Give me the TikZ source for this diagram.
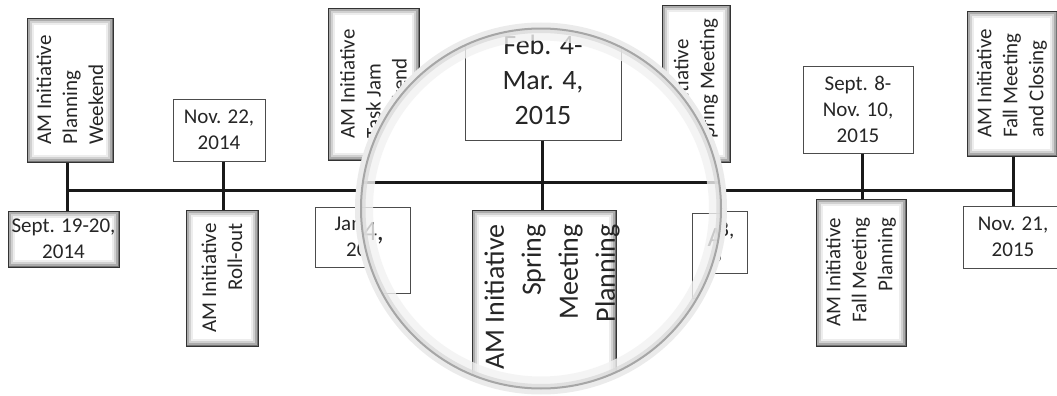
\documentclass[tikz,border=0pt]{standalone}
\usepackage{fontspec}
\setmainfont{Carlito}
\begin{document}
\begin{tikzpicture}[x=0.5pt,y=-0.5pt,
  tick/.style={line width=1.5pt, black!90},
  datebox/.style={draw=black!70, fill=white, line width=0.5pt, inner sep=0pt, align=center,
    text=black!85, font=\fontsize{10.5}{13}\selectfont},
  shbox/.style={datebox, draw=black!80, path picture={
    \draw[black!7, line width=7pt] (path picture bounding box.south west) rectangle (path picture bounding box.north east);
    \draw[black!18, line width=5pt] (path picture bounding box.south west) rectangle (path picture bounding box.north east);
    \draw[black!33, line width=3pt] (path picture bounding box.south west) rectangle (path picture bounding box.north east);
    \draw[black!55, line width=1.4pt] (path picture bounding box.south west) rectangle (path picture bounding box.north east);}},
  vert/.style={rotate=90},
  big/.style={font=\fontsize{14}{18.5}\selectfont}]
\useasboundingbox (0,0) rectangle (1057,396);
% timeline
\coordinate (t1) at (67,190);
\coordinate (t2) at (223,190);
\coordinate (t3) at (370,190);
\coordinate (t4) at (700,190);
\coordinate (t5) at (862,190);
\coordinate (t6) at (1013,190);
\draw[tick] (t1) -- (t6);
% boxes
\node[shbox, vert, minimum width=72pt, minimum height=43pt, align=left] (pw) at (70,90) {AM Initiative\\Planning\\Weekend};
\node[shbox, minimum width=55.5pt, minimum height=28pt] (sd1) at (63.5,239) {Sept. 19-20,\\2014};
\node[datebox, minimum width=46pt, minimum height=31pt] (nd1) at (219,130) {Nov. 22,\\2014};
\node[shbox, vert, minimum width=68pt, minimum height=36pt, align=right] (ro) at (222,278) {AM Initiative\\Roll-out};
\node[shbox, vert, minimum width=76pt, minimum height=45.5pt, align=left] (tj) at (373.5,84) {AM Initiative\\Task Jam\\Weekend};
\node[datebox, minimum width=52.5pt, minimum height=30pt] (jd) at (367.5,237) {Jan. 14,\\2015};
\node[shbox, vert, minimum width=78.5pt, minimum height=34pt, align=left] (sm) at (696,83.5) {AM Initiative\\Spring Meeting};
\node[datebox, minimum width=46pt, minimum height=31pt] (ad) at (701,242) {Apr. 18,\\2015};
\node[datebox, minimum width=55pt, minimum height=43.5pt] (sd2) at (858,109.5) {Sept. 8-\\Nov. 10,\\2015};
\node[shbox, vert, minimum width=73.5pt, minimum height=45pt, align=right] (fp) at (861,272.5) {AM Initiative\\Fall Meeting\\Planning};
\node[shbox, vert, minimum width=72.5pt, minimum height=45pt, align=left] (fc) at (1012,83.5) {AM Initiative\\Fall Meeting\\and Closing};
\node[datebox, minimum width=50pt, minimum height=31pt] (nd2) at (1013,237) {Nov. 21,\\2015};
% ticks
\draw[tick] (t1 |- pw.west) -- (t1 |- sd1.north);
\draw[tick] (t2 |- nd1.south) -- (t2 |- ro.east);
\draw[tick] (t5 |- sd2.south) -- (t5 |- fp.east);
\draw[tick] (t6 |- fc.west) -- (t6 |- nd2.north);
% lens
\coordinate (lc) at (541,208.5);
\draw[black!8, line width=4pt] (lc) circle[radius=91pt];
\fill[white] (lc) circle[radius=90pt];
\begin{scope}
\clip (lc) circle[radius=90pt];
\draw[tick] (340,182) -- (740,182);
\node[datebox, big, font=\fontsize{14}{17.5}\selectfont, minimum width=78pt, minimum height=60pt] (fb) at (543,80) {Feb. 4-\\Mar. 4,\\2015};
\node[shbox, vert, minimum width=100pt, minimum height=72pt] (spb) at (544,310) {};
\node[vert, big, align=right, text=black!85, inner sep=0pt] (spt) at (552,297) {AM Initiative\\Spring\\Meeting\\Planning};
\node[datebox, big, minimum width=70pt, minimum height=43pt] (jdm) at (340,250) {Jan. 14,\\2015};
\node[datebox, big, minimum width=60pt, minimum height=42.5pt] (adm) at (752,255.5) {Apr. 18,\\2015};
\draw[tick] (fb.south -| 542,0) -- (spb.east -| 542,0);
\end{scope}
\draw[black!5, line width=6pt, opacity=.8] (lc) circle[radius=87pt];
\draw[black!14, line width=2.5pt, opacity=.8] (lc) circle[radius=89pt];
\draw[black!35, line width=1pt] (lc) circle[radius=90pt];
\end{tikzpicture}
\end{document}
